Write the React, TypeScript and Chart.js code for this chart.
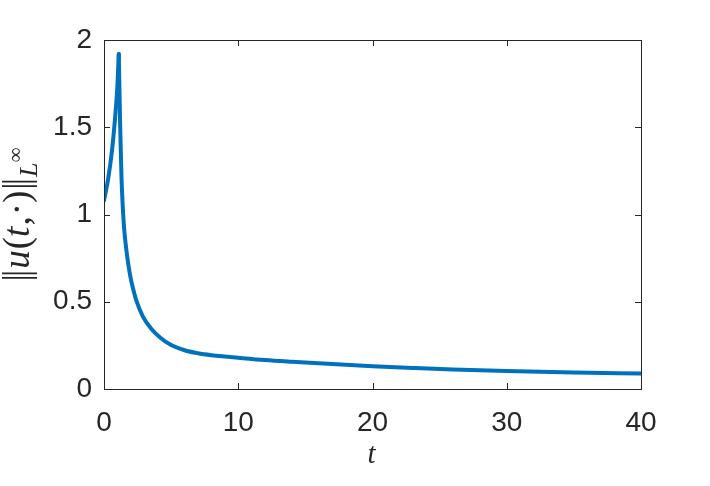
import React, { useEffect, useRef } from "react";
import { Chart, registerables } from "chart.js";

Chart.register(...registerables);

// rising branch (before the peak)
const tRise = [0, 0.3, 0.6, 0.8, 1.0, 1.1];
const normRise = [1.08, 1.2, 1.37, 1.53, 1.74, 1.92];
// decaying branch (from the peak on)
const tDecay = [1.1, 1.2, 1.3, 1.4, 1.5, 1.6, 1.8, 2.0, 2.2, 2.4, 2.9, 3.5, 4.2, 5, 6, 7, 8, 9, 10, 12, 14, 16, 18, 20, 23, 26, 30, 35, 40];
const normDecay = [1.92, 1.52, 1.22, 1.04, 0.92, 0.84, 0.72, 0.63, 0.565, 0.51, 0.415, 0.347, 0.294, 0.252, 0.222, 0.205, 0.194, 0.186, 0.179, 0.166, 0.156, 0.147, 0.139, 0.131, 0.121, 0.112, 0.103, 0.095, 0.089];
const xTicks = [0, 10, 20, 30, 40];
const yTicks = [0, 0.5, 1, 1.5, 2];

const AXIS_COLOR = "#262626";
const LINE_COLOR = "#0072BD";
const TICK_FONT = "Liberation Sans";
const MATH_FONT = "Liberation Serif";

const boxPlugin = {
  id: "matlabBox",
  afterDraw(chart: any) {
    const { ctx, chartArea, scales } = chart;
    const { left, right, top, bottom } = chartArea;
    const xs = scales.x;
    const ys = scales.y;
    ctx.save();
    ctx.strokeStyle = AXIS_COLOR;
    ctx.lineWidth = 1;
    ctx.strokeRect(Math.round(left) + 0.5, Math.round(top) + 0.5, Math.round(right - left), Math.round(bottom - top));
    const tl = 6;
    ctx.beginPath();
    for (const v of xTicks) {
      const px = Math.round(xs.getPixelForValue(v)) + 0.5;
      ctx.moveTo(px, bottom);
      ctx.lineTo(px, bottom - tl);
      ctx.moveTo(px, top);
      ctx.lineTo(px, top + tl);
    }
    for (const v of yTicks) {
      const py = Math.round(ys.getPixelForValue(v)) + 0.5;
      ctx.moveTo(left, py);
      ctx.lineTo(left + tl, py);
      ctx.moveTo(right, py);
      ctx.lineTo(right - tl, py);
    }
    ctx.stroke();

    // x label
    ctx.fillStyle = AXIS_COLOR;
    ctx.font = `italic 29px "${MATH_FONT}"`;
    ctx.textAlign = "center";
    ctx.textBaseline = "alphabetic";
    ctx.fillText("t", (left + right) / 2 - 1, 463);

    // y label (rotated)
    ctx.save();
    const cy = (top + bottom) / 2;
    ctx.translate(29, cy);
    ctx.rotate(-Math.PI / 2);
    const F = 37;
    const parts: Array<[string, string, number, number]> = [
      ["|", `${F}px "${MATH_FONT}"`, 0, -3],
      ["|", `${F}px "${MATH_FONT}"`, 0, 1],
      ["u", `italic ${F}px "${MATH_FONT}"`, 0, 1],
      ["(", `${F}px "${MATH_FONT}"`, 0, 0],
      ["t", `italic ${F}px "${MATH_FONT}"`, 0, 1],
      [",", `${F}px "${MATH_FONT}"`, 0, 1],
      ["\u00B7", `${F}px "${MATH_FONT}"`, 0, 0],
      [")", `${F}px "${MATH_FONT}"`, 0, 1],
      ["|", `${F}px "${MATH_FONT}"`, 0, -3],
      ["|", `${F}px "${MATH_FONT}"`, 0, 1],
      ["L", `italic 26px "${MATH_FONT}"`, 8, 0],
      ["\u221E", `21px "${MATH_FONT}"`, -7, 0],
    ];
    let total = 0;
    const widths: number[] = [];
    for (const [s, f, , extra] of parts) {
      ctx.font = f;
      const w = ctx.measureText(s).width + extra;
      widths.push(w);
      total += w;
    }
    let x = -total / 2;
    ctx.textAlign = "left";
    parts.forEach(([s, f, dy], i) => {
      ctx.font = f;
      ctx.fillText(s, x, dy);
      x += widths[i];
    });
    ctx.restore();
    ctx.restore();
  },
};

export default function App() {
  const ref = useRef<HTMLCanvasElement>(null);
  useEffect(() => {
    document.body.style.margin = "0";
    const canvas = ref.current!;
    const common = {
      borderColor: LINE_COLOR,
      borderWidth: 4,
      pointRadius: 0,
      fill: false,
      borderJoinStyle: "round" as const,
      borderCapStyle: "round" as const,
      cubicInterpolationMode: "monotone" as const,
    };
    const chart = new Chart(canvas, {
      type: "line",
      data: {
        datasets: [
          {
            ...common,
            data: tRise.map((t, i) => ({ x: t, y: normRise[i] })),
          },
          {
            ...common,
            data: tDecay.map((t, i) => ({ x: t, y: normDecay[i] })),
          },
        ],
      },
      options: {
        animation: false,
        responsive: false,
        maintainAspectRatio: false,
        layout: { padding: { left: 0, top: 40, right: 69, bottom: 0 } },
        plugins: { legend: { display: false }, tooltip: { enabled: false } },
        scales: {
          x: {
            type: "linear",
            min: 0,
            max: 40,
            afterBuildTicks: (s: any) => {
              s.ticks = xTicks.map((v) => ({ value: v }));
            },
            afterFit: (s: any) => {
              s.height = 97;
            },
            grid: { display: false },
            border: { display: false },
            ticks: {
              color: AXIS_COLOR,
              font: { family: TICK_FONT, size: 28 },
              padding: 9,
              maxRotation: 0,
              callback: (v: any) => String(v),
            },
          },
          y: {
            type: "linear",
            min: 0,
            max: 2,
            afterBuildTicks: (s: any) => {
              s.ticks = yTicks.map((v) => ({ value: v }));
            },
            afterFit: (s: any) => {
              s.width = 104;
            },
            grid: { display: false },
            border: { display: false },
            ticks: {
              color: AXIS_COLOR,
              font: { family: TICK_FONT, size: 28 },
              padding: 4,
              callback: (v: any) => String(v),
            },
          },
        },
      },
      plugins: [boxPlugin],
    });
    return () => chart.destroy();
  }, []);
  return (
    <div style={{ width: 710, height: 486, background: "#fff" }}>
      <canvas ref={ref} width={710} height={486} style={{ display: "block" }} />
    </div>
  );
}
